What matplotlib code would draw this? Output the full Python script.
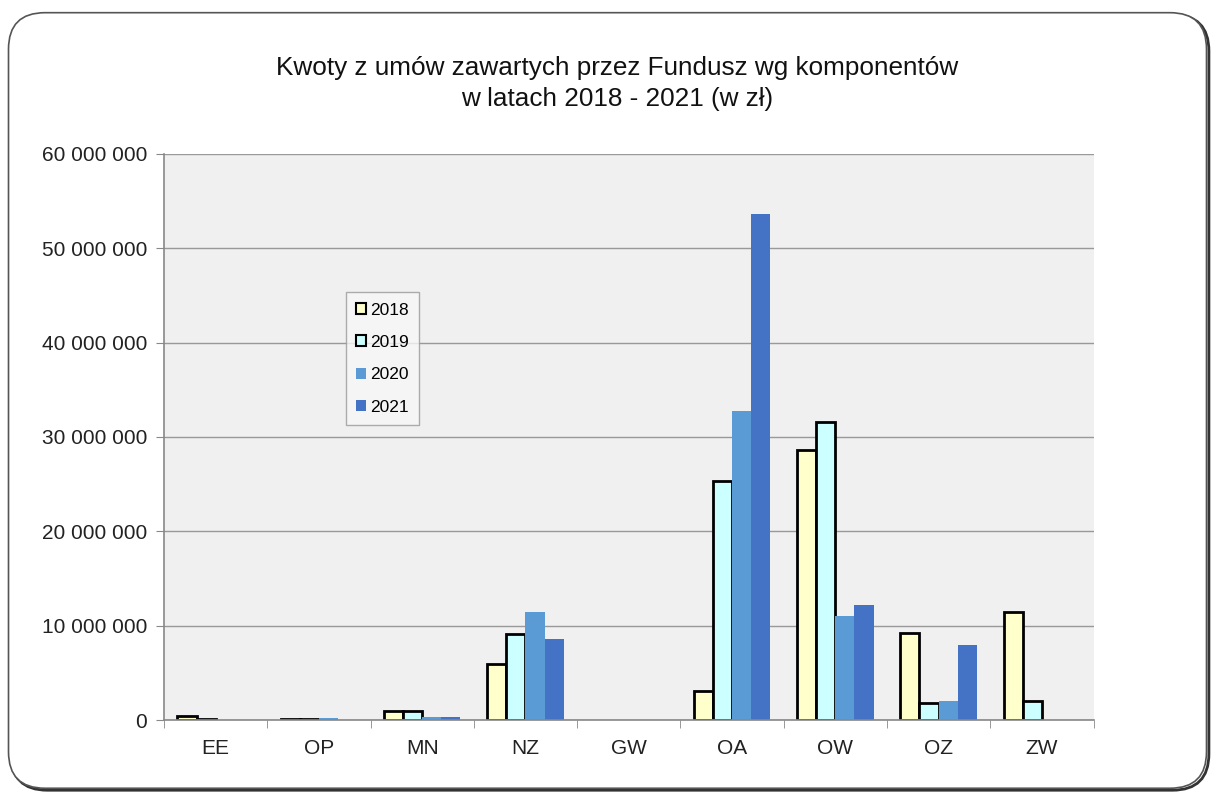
import matplotlib
matplotlib.use("Agg")
import matplotlib.pyplot as plt
import numpy as np
from matplotlib.patches import FancyBboxPatch
from matplotlib.ticker import FuncFormatter, FixedLocator

plt.rcParams['font.family'] = ['Liberation Sans', 'DejaVu Sans']

categories = ["EE", "OP", "MN", "NZ", "GW", "OA", "OW", "OZ", "ZW"]
years = ["2018", "2019", "2020", "2021"]
v2018 = [450000, 100000, 1000000, 5950000, 0, 3100000, 28600000, 9250000, 11500000]
v2019 = [150000, 150000, 950000, 9150000, 0, 25300000, 31600000, 1800000, 2000000]
v2020 = [50000, 200000, 350000, 11500000, 0, 32700000, 11000000, 2000000, 0]
v2021 = [50000, 50000, 350000, 8600000, 0, 53600000, 12200000, 8000000, 0]
series = [v2018, v2019, v2020, v2021]
colors = ["#FFFFCC", "#CCFFFF", "#5B9BD5", "#4472C4"]
edges = ["black", "black", "none", "none"]

fig = plt.figure(figsize=(12.15, 7.93), dpi=100)
fig.patch.set_facecolor("white")

# rounded frame with slight shadow
shadow = FancyBboxPatch((0.009, 0.0035), 0.986, 0.978, boxstyle="round,pad=0,rounding_size=0.03",
                        transform=fig.transFigure, facecolor="none", edgecolor="#333333",
                        linewidth=2.0, mutation_aspect=1215/793, zorder=-10)
fig.patches.append(shadow)
frame = FancyBboxPatch((0.007, 0.006), 0.986, 0.978, boxstyle="round,pad=0,rounding_size=0.03",
                       transform=fig.transFigure, facecolor="white", edgecolor="#555555",
                       linewidth=1.2, mutation_aspect=1215/793, zorder=-9)
fig.patches.append(frame)

ax = fig.add_axes([0.135, 0.092, 0.765, 0.714])
ax.set_facecolor("#f0f0f0")

n = len(categories)
x = np.arange(n)
bw = 0.185
for i, (vals, c, ec) in enumerate(zip(series, colors, edges)):
    offs = (i - 1.5) * bw
    lws = [(2.0 if (ec != "none" and v > 0) else 0) for v in vals]
    ax.bar(x + offs, vals, width=bw, color=c, edgecolor=ec if ec != "none" else c,
           linewidth=lws, label=years[i], zorder=3)

ax.set_xlim(-0.5, n - 0.5)
ax.set_ylim(0, 60000000)
ax.set_yticks(np.arange(0, 60000001, 10000000))
ax.yaxis.set_major_formatter(FuncFormatter(lambda v, p: f"{int(v):,}".replace(",", " ")))
ax.set_xticks(x)
ax.set_xticklabels(categories)
ax.xaxis.set_minor_locator(FixedLocator(np.arange(-0.5, n, 1.0)))
ax.tick_params(axis="x", which="major", length=0, labelsize=15, pad=14, colors="#222222")
ax.tick_params(axis="x", which="minor", length=6, color="#888888", direction="out")
ax.tick_params(axis="y", length=6, color="#888888", labelsize=15, pad=6, labelcolor="#222222")
ax.grid(axis="y", color="#999999", linewidth=1.0, zorder=1)
for s in ["top", "right"]:
    ax.spines[s].set_visible(False)
for s in ["left", "bottom"]:
    ax.spines[s].set_color("#888888")
    ax.spines[s].set_linewidth(1.2)
ax.spines["bottom"].set_zorder(4)

leg = ax.legend(loc="upper left", bbox_to_anchor=(0.186, 0.771), fontsize=12.5,
                frameon=True, fancybox=False, handlelength=0.6, handleheight=0.6,
                handletextpad=0.2, labelspacing=1.0, borderpad=0.6)
leg.get_frame().set_edgecolor("#999999")
leg.get_frame().set_facecolor("#f7f7f7")
leg.get_frame().set_linewidth(1.0)
for h, ec in zip(leg.legend_handles, edges):
    h.set_linewidth(1.5 if ec != "none" else 0)
    if ec != "none":
        h.set_edgecolor("black")

fig.text(0.508, 0.914, "Kwoty z umów zawartych przez Fundusz wg komponentów",
         ha="center", va="center", fontsize=18.8, color="#111111")
fig.text(0.508, 0.875, "w latach 2018 - 2021 (w zł)",
         ha="center", va="center", fontsize=18.8, color="#111111")

fig.savefig("out.png", dpi=100)
